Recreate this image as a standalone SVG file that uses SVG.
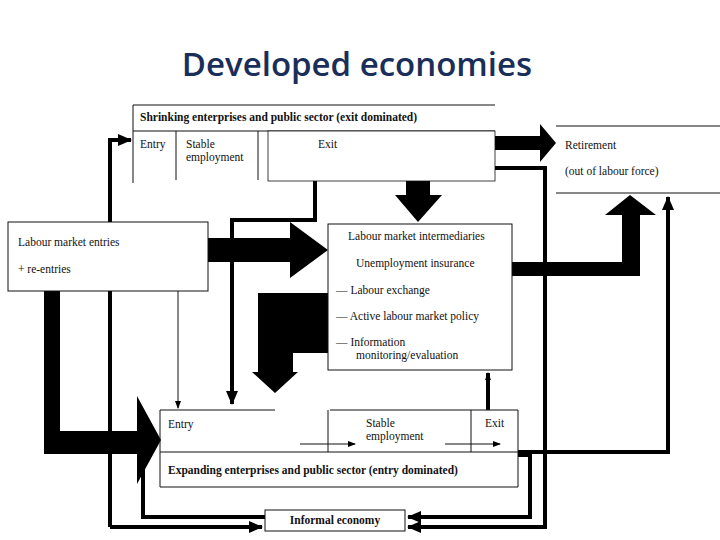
<svg xmlns="http://www.w3.org/2000/svg" width="720" height="540" viewBox="0 0 720 540">
<defs>
<style>
.t{font-family:"Liberation Serif",serif;font-size:11.5px;fill:#111}
.b{font-weight:bold}
.ln{stroke:#111;stroke-width:1;fill:none}
.th{stroke:#000;stroke-width:4;fill:none}
.k{fill:#000}
</style>
<marker id="a" markerWidth="8" markerHeight="6" refX="7" refY="3" orient="auto" markerUnits="userSpaceOnUse"><path d="M0,0L8,3L0,6z" fill="#000"/></marker>
<marker id="a2" markerWidth="14" markerHeight="12" refX="13" refY="6" orient="auto" markerUnits="userSpaceOnUse"><path d="M0,0L14,6L0,12z" fill="#000"/></marker>
</defs>
<rect width="720" height="540" fill="#fff"/>
<text x="357" y="76" text-anchor="middle" font-family="Open Sans,Liberation Sans,sans-serif" font-size="33" font-weight="600" fill="#1a2e5a">Developed economies</text>

<g id="connectors">
<path class="th" stroke-width="3" d="M110,527V140H131" marker-end="url(#a2)"/>
<path class="ln" d="M178,291V408" marker-end="url(#a)"/>
<path class="th" d="M315,181V220H232V404" marker-end="url(#a2)"/>
<path class="ln" d="M163,172H185" marker-end="url(#a)"/>
<path class="ln" d="M240,172H260" marker-end="url(#a)"/>
<path class="th" stroke-width="3.5" d="M495,168H545V527H408" marker-end="url(#a2)"/>
<path class="th" stroke-width="2.5" d="M518,452H668V197" marker-end="url(#a2)"/>
<path class="th" stroke-width="3" d="M518,455H530V517H408" marker-end="url(#a2)"/>
<path class="th" stroke-width="3" d="M265,517H143V449" marker-end="url(#a2)"/>
<path class="th" stroke-width="3" d="M110,527H262" marker-end="url(#a2)"/>
<path class="th" stroke-width="2" d="M488,410V373" marker-end="url(#a)"/>
<path class="ln" stroke-width="1.5" d="M300,444H355" marker-end="url(#a)"/>
<path class="ln" stroke-width="1.5" d="M445,444H500" marker-end="url(#a)"/>
<path class="k" d="M495,136H540V124L556,143L540,162V150H495z"/>
<path class="k" d="M406,181H430V195H442L418,222L395,195H406z"/>
<path class="k" d="M208,238H290V222L328,250L290,278V262H208z"/>
<path class="k" d="M512,262H622V215H605L630,195L656,215H640V276H512z"/>
<path class="k" d="M328,293V353H293V372H298L275,393L252,372H258V293z"/>
<path class="k" d="M44,291H60V431H137V396L161,440L137,484V454H44z"/>
</g>

<g id="shrinking">
<rect x="133" y="105" width="362" height="76" fill="#fff"/>
<path class="ln" d="M133,105H495M133,131H495M133,105V183M176,131V180M258,131V180"/>
<rect x="268" y="131" width="227" height="50" fill="#fff" stroke="#111" stroke-width="0.8"/>
<text class="t b" x="140" y="121">Shrinking enterprises and public sector (exit dominated)</text>
<text class="t" x="140" y="148">Entry</text>
<text class="t" x="186" y="148">Stable</text>
<text class="t" x="186" y="161">employment</text>
<text class="t" x="318" y="148">Exit</text>
</g>

<g id="retirement">
<path class="ln" d="M556,126H720M556,193H720"/>
<text class="t" x="565" y="149">Retirement</text>
<text class="t" x="565" y="175">(out of labour force)</text>
</g>

<g id="entries">
<rect x="8" y="222" width="200" height="69" fill="#fff" stroke="#111"/>
<text class="t" x="18" y="246">Labour market entries</text>
<text class="t" x="18" y="273">+ re-entries</text>
</g>

<g id="intermediaries">
<rect x="328" y="224" width="184" height="146" fill="#fff" stroke="#111"/>
<text class="t" x="348" y="240">Labour market intermediaries</text>
<text class="t" x="356" y="267">Unemployment insurance</text>
<text class="t" x="336" y="294">—  Labour exchange</text>
<text class="t" x="336" y="320">—  Active labour market policy</text>
<text class="t" x="336" y="346">—  Information</text>
<text class="t" x="356" y="359">monitoring/evaluation</text>
</g>

<g id="expanding">
<path class="ln" d="M160,410H275M330,410H518M160,452H518M160,487H518M160,410V487M518,410V487M328,410V452M471,410V452"/>
<text class="t" x="168" y="428">Entry</text>
<text class="t" x="366" y="427">Stable</text>
<text class="t" x="366" y="440">employment</text>
<text class="t" x="485" y="427">Exit</text>
<text class="t b" x="168" y="474">Expanding enterprises and public sector (entry dominated)</text>
</g>

<g id="informal">
<rect x="265" y="510" width="140" height="21" fill="#fff" stroke="#111"/>
<text class="t b" x="335" y="524" text-anchor="middle">Informal economy</text>
</g>
</svg>
